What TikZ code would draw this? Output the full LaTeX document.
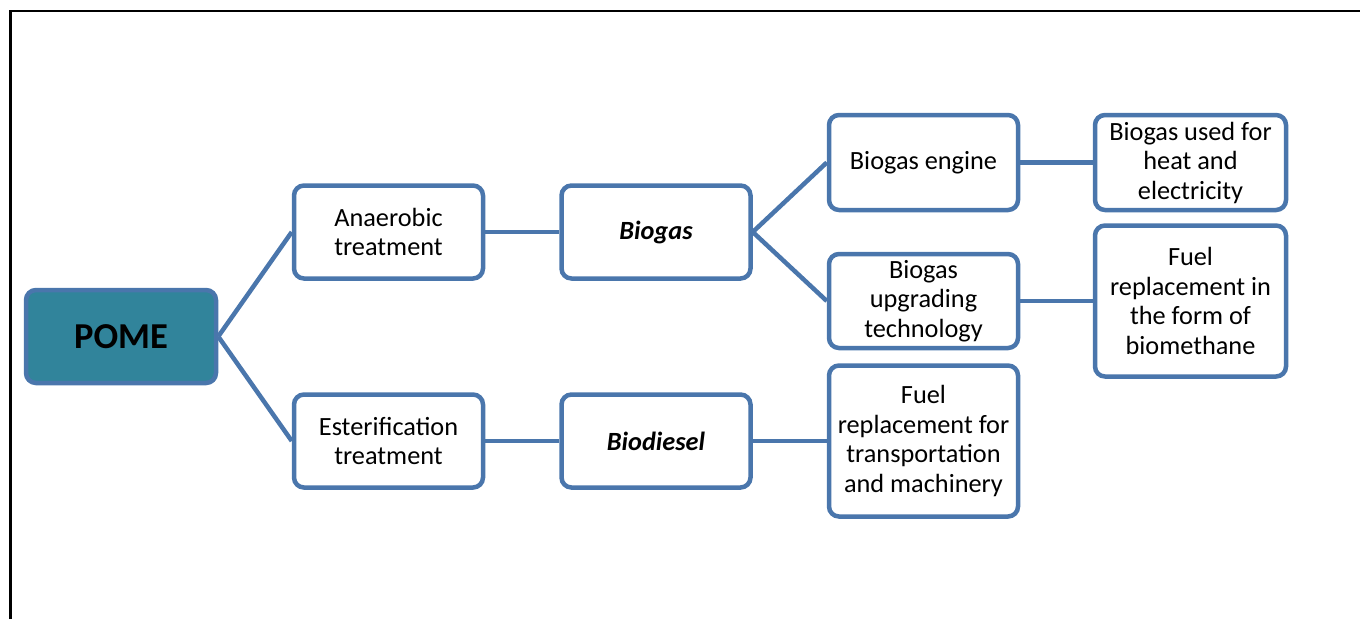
\documentclass[tikz,border=0pt]{standalone}
\usepackage{fontspec}
\setmainfont{Carlito}
\definecolor{edgeblue}{HTML}{4A76AC}
\definecolor{pometeal}{HTML}{31849B}
\begin{document}
\begin{tikzpicture}[x=1pt,y=-1pt,
  box/.style={draw=edgeblue, line width=4.5pt, rounded corners=10pt, fill=white,
    minimum width=189pt, minimum height=93pt, inner sep=0pt, align=center,
    font=\fontsize{26.3pt}{29.5pt}\selectfont},
  tallbox/.style={box, minimum height=151pt},
  emph/.style={font=\fontsize{26.3pt}{29.5pt}\selectfont\bfseries\itshape},
  link/.style={draw=edgeblue, line width=4.5pt}]
\useasboundingbox (0,0) rectangle (1360,619);
% page frame (top and left edges)
\draw[line width=2.5pt] (10.5,619) -- (10.5,11) -- (1360,11);

\node[box, fill=pometeal, minimum width=190pt, font=\fontsize{36.5pt}{40pt}\selectfont\bfseries] (pome) at (121,336.5) {POME};
\node[box] (anaer) at (388.5,232) {Anaerobic\\treatment};
\node[box] (ester) at (388.5,441) {Esterification\\treatment};
\node[box, emph] (biogas) at (656,232) {Biogas};
\node[box, emph] (biodiesel) at (656,441) {Biodiesel};
\node[box, minimum height=95pt] (engine) at (923.5,162.5) {Biogas engine};
\node[box, minimum height=94pt] (upgrade) at (923.5,301) {Biogas\\upgrading\\technology};
\node[tallbox] (transport) at (923.5,441) {Fuel\\replacement for\\transportation\\and machinery};
\node[box, minimum width=191pt, minimum height=95pt] (heat) at (1190.5,162.5) {Biogas used for\\heat and\\electricity};
\node[tallbox, minimum width=191pt] (methane) at (1190.5,301) {Fuel\\replacement in\\the form of\\biomethane};

\path[link] (pome.east) -- (anaer.west);
\path[link] (pome.east) -- (ester.west);
\path[link] (anaer.east) -- (biogas.west);
\path[link] (ester.east) -- (biodiesel.west);
\path[link] (biogas.east) -- (engine.west);
\path[link] (biogas.east) -- (upgrade.west);
\path[link] (biodiesel.east) -- (transport.west);
\path[link] (engine.east) -- (heat.west);
\path[link] (upgrade.east) -- (methane.west);
\end{tikzpicture}
\end{document}
